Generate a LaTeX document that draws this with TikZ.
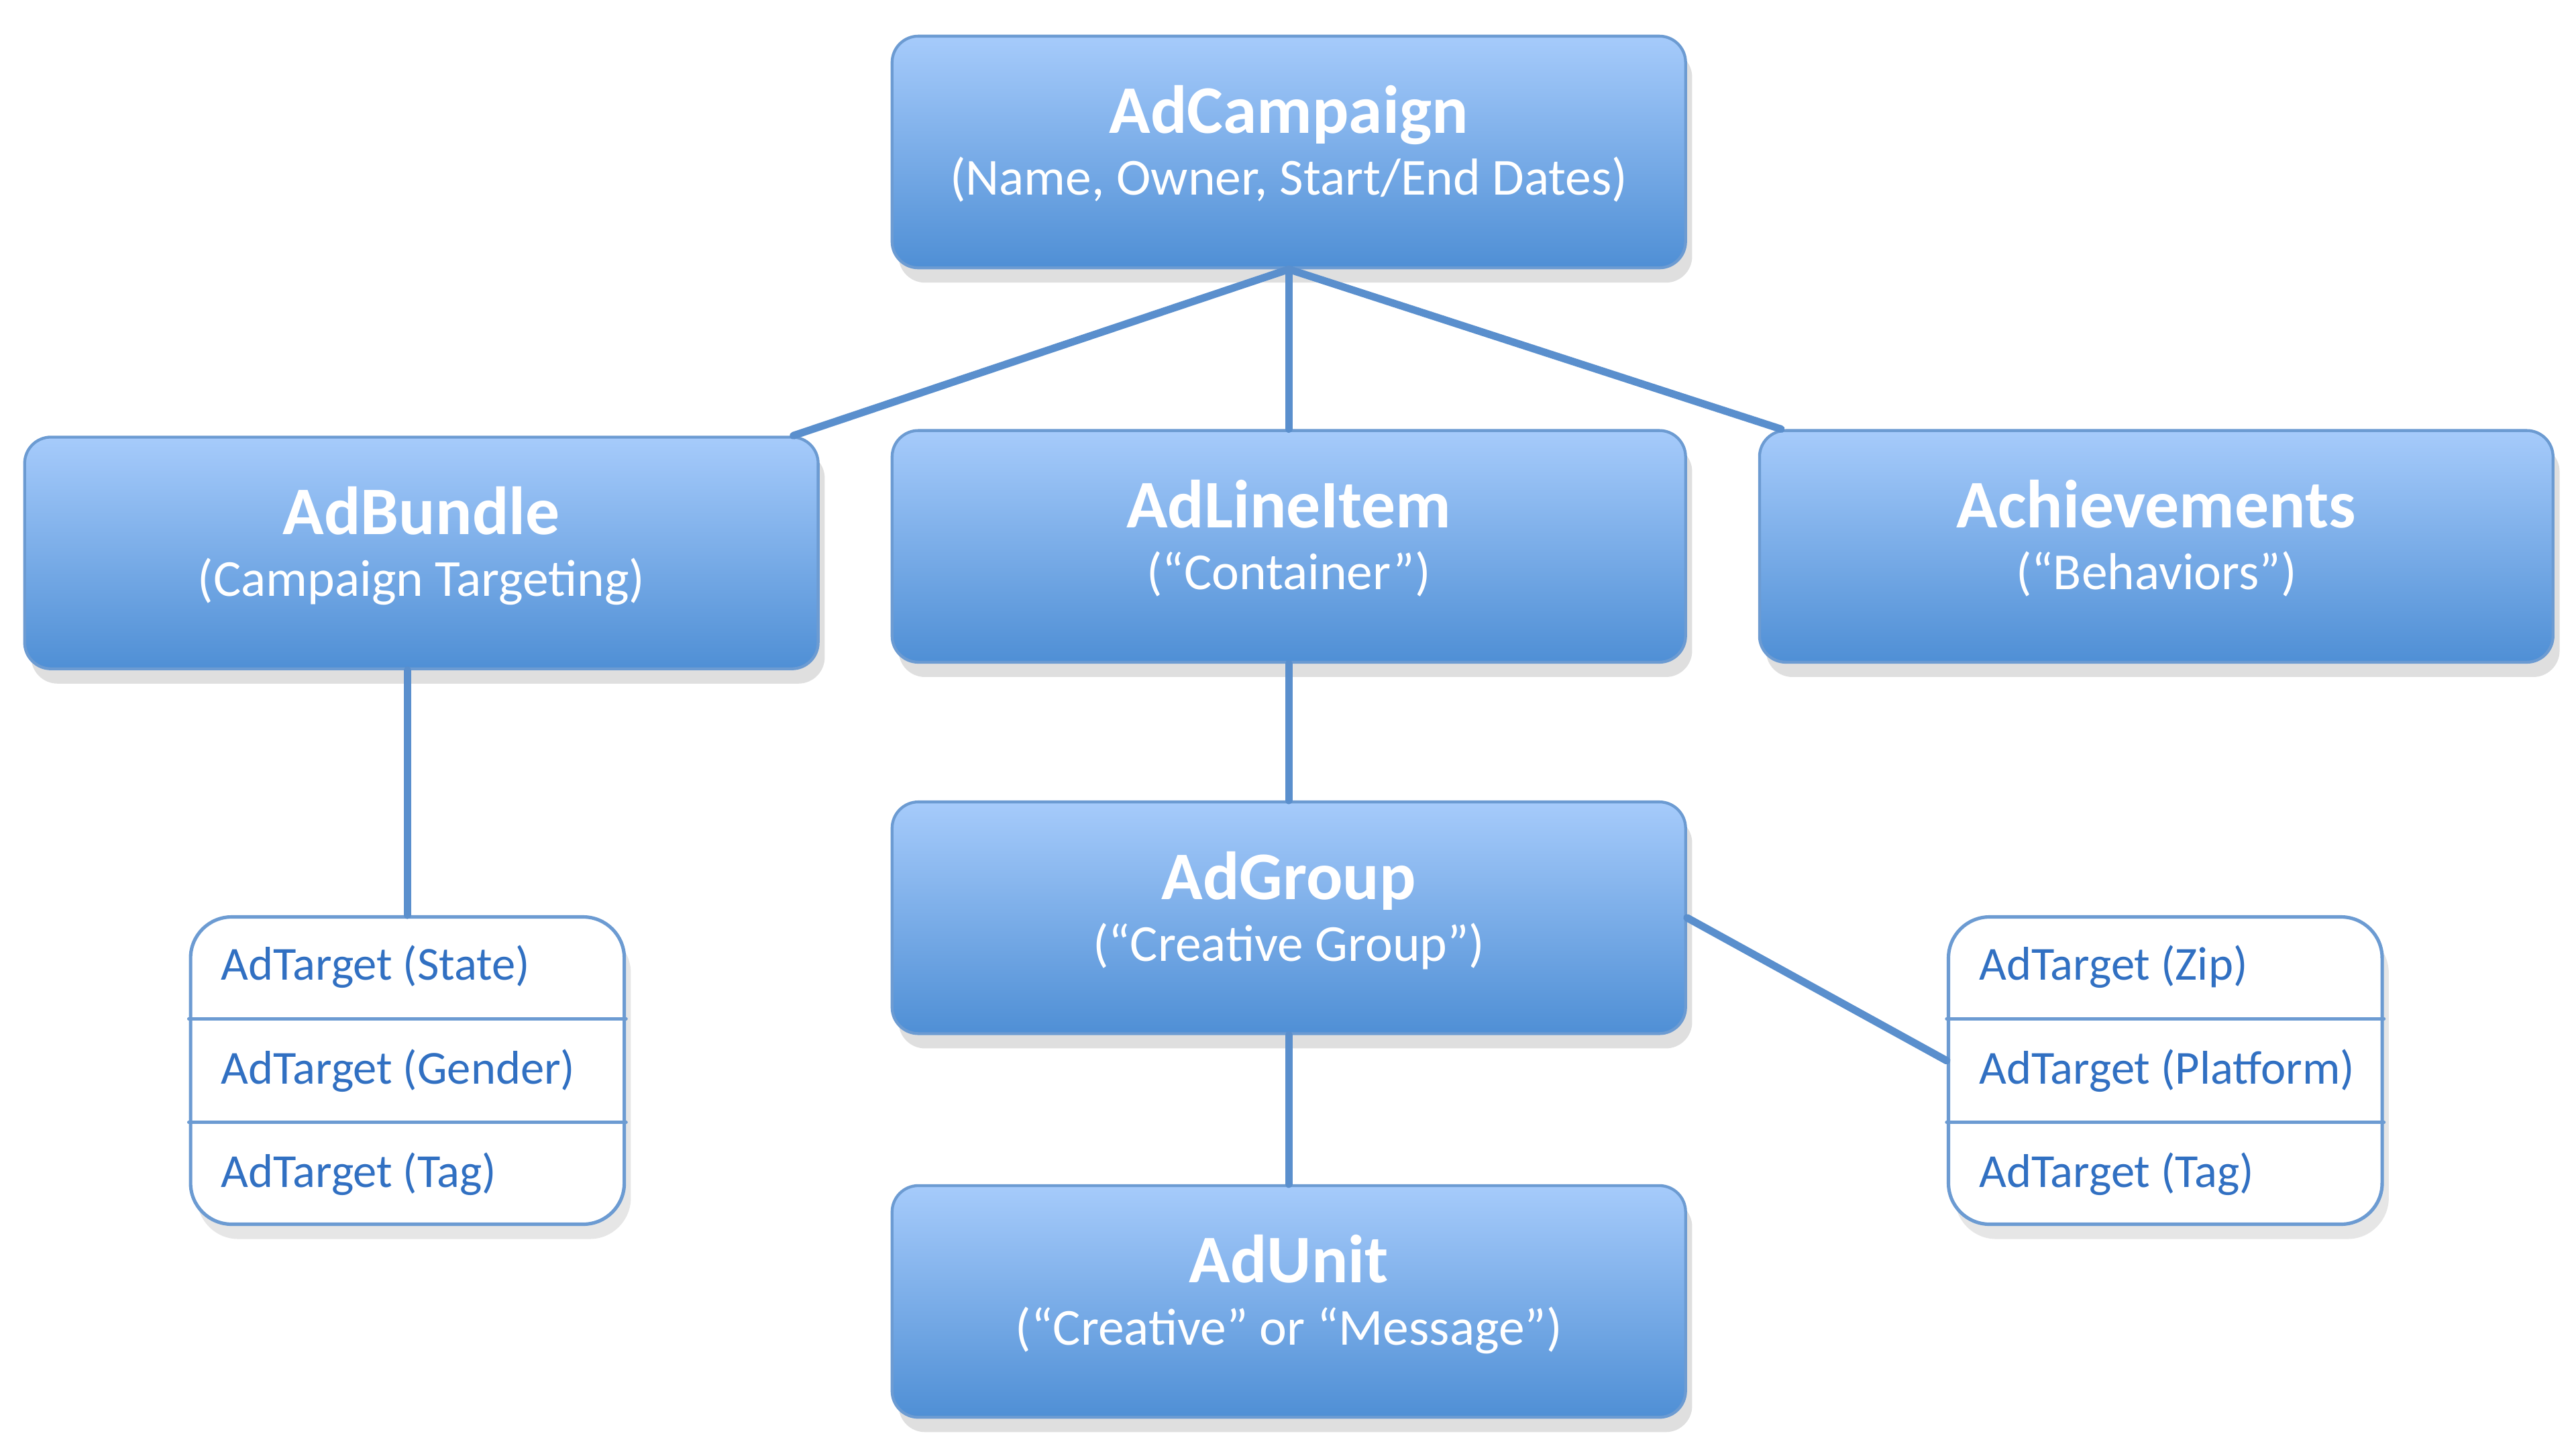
\documentclass[tikz,border=0pt]{standalone}
\usepackage{fontspec}
\setmainfont{Carlito}
\usetikzlibrary{shadows,calc}
\definecolor{boxtop}{HTML}{A6CBFB}
\definecolor{boxbot}{HTML}{4F8FD5}
\definecolor{boxline}{HTML}{6C9BD2}
\definecolor{linkblue}{HTML}{5A8FCD}
\definecolor{itemtext}{HTML}{3170C2}
\newcommand{\ttl}[1]{{\fontsize{11.8}{10.7}\selectfont\bfseries #1}}
\begin{document}
\begin{tikzpicture}[line join=round, line cap=round,
	bluebox/.style={rounded corners=1.6mm, draw=boxline, line width=0.5pt, top color=boxtop, bottom color=boxbot,
		minimum width=4.83cm, minimum height=1.41cm, align=center, text=white, text depth=4pt, font=\fontsize{9}{10.7}\selectfont,
		drop shadow={shadow xshift=0.4mm, shadow yshift=-0.9mm, opacity=0.25}},
	targetlist/.style={draw=boxline, line width=0.6pt, rounded corners=2.5mm, fill=white,
		minimum width=2.64cm, minimum height=1.87cm, drop shadow={shadow xshift=0.4mm, shadow yshift=-0.9mm, opacity=0.2}},
	target/.style={inner sep=0pt, anchor=west, text=itemtext, font=\fontsize{8.2}{9.6}\selectfont},
	link/.style={draw=linkblue, line width=1.3pt}]
	\useasboundingbox (0,0) rectangle (15.68,-8.81);
	%các ô chính
	\node[bluebox] (camp) at (7.845,-0.925) {\ttl{AdCampaign}\\(Name, Owner, Start/End Dates)};
	\node[bluebox] (bundle) at (2.565,-3.365) {\ttl{AdBundle}\\(Campaign Targeting)};
	\node[bluebox] (lineitem) at (7.845,-3.325) {\ttl{AdLineItem}\\(“Container”)};
	\node[bluebox] (achieve) at (13.125,-3.325) {\ttl{Achievements}\\(“Behaviors”)};
	\node[bluebox] (group) at (7.845,-5.585) {\ttl{AdGroup}\\(“Creative Group”)};
	\node[bluebox] (unit) at (7.845,-7.92) {\ttl{AdUnit}\\(“Creative” or “Message”)};
	%hai danh sách AdTarget
	\node[targetlist] (lt) at (2.48,-6.515) {};
	\node[targetlist] (rt) at (13.18,-6.515) {};
	\foreach \l in {lt,rt}
	\foreach \f in {1,2}
	\draw[boxline, line width=0.6pt] ($(\l.north west)!\f/3!(\l.south west)$) -- ($(\l.north east)!\f/3!(\l.south east)$);
	\foreach \t [count=\i, evaluate=\i as \f using (2*\i-1)/6] in {State,Gender,Tag}
	\node[target] (lt\i) at ($(lt.north west)!\f!(lt.south west)+(0.19,0)$) {AdTarget (\t)};
	\foreach \t [count=\i, evaluate=\i as \f using (2*\i-1)/6] in {Zip,Platform,Tag}
	\node[target] (rt\i) at ($(rt.north west)!\f!(rt.south west)+(0.19,0)$) {AdTarget (\t)};
	%các đường nối
	\draw[link] (camp.south) -- ([xshift=-1.6mm]bundle.north east);
	\draw[link] (camp.south) -- (lineitem.north);
	\draw[link] (camp.south) -- ([xshift=1.4mm]achieve.north west);
	\draw[link] (lt.north) -- (lt.north |- bundle.south);
	\draw[link] (lineitem.south) -- (group.north);
	\draw[link] (group.east) -- ([yshift=0.6mm]rt.west);
	\draw[link] (group.south) -- (unit.north);
\end{tikzpicture}
\end{document}
